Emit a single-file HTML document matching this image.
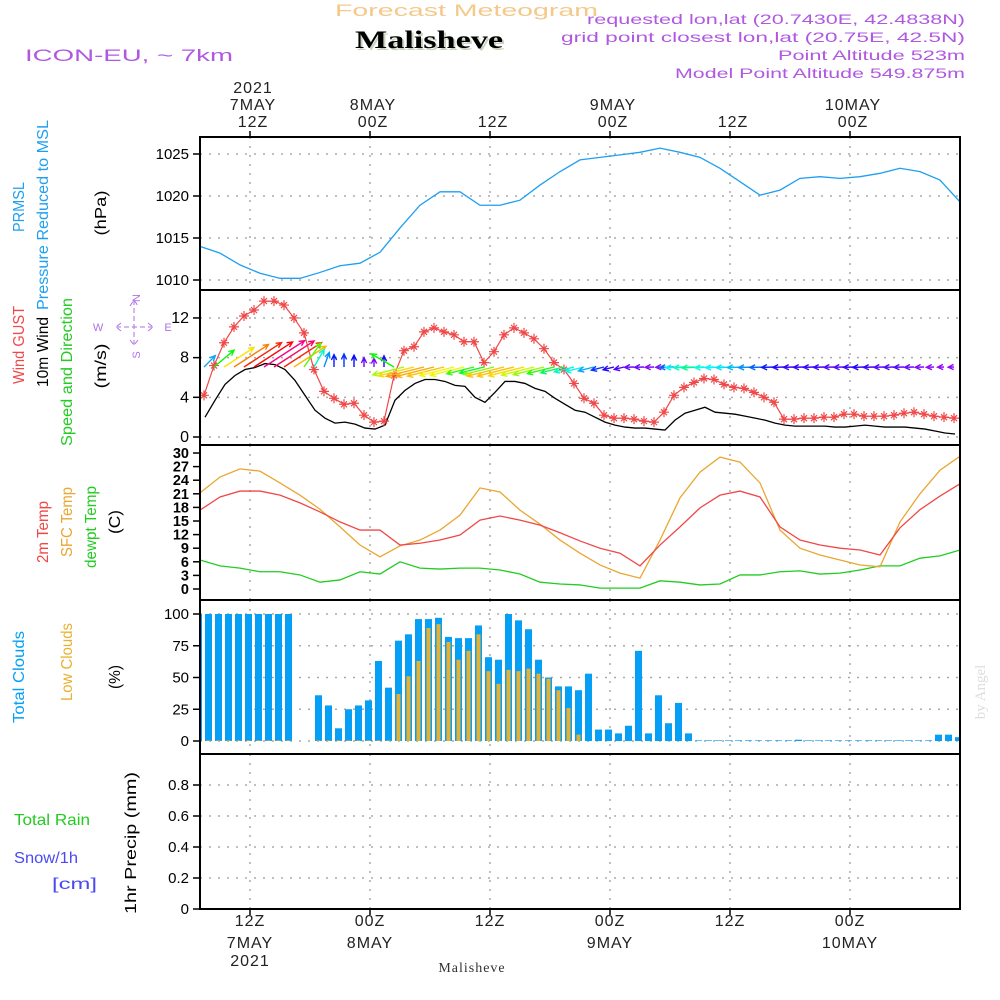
<!DOCTYPE html>
<html><head><meta charset="utf-8"><title>Forecast Meteogram Malisheve</title>
<style>
html,body{margin:0;padding:0;background:#fff;}
svg{display:block;font-family:"Liberation Sans",sans-serif;}
</style></head>
<body>
<svg id="chart" width="1000" height="1000" viewBox="0 0 1000 1000" xmlns="http://www.w3.org/2000/svg">
<rect x="0" y="0" width="1000" height="1000" fill="#fff"/>
<text x="335" y="16" textLength="263" lengthAdjust="spacingAndGlyphs" font-size="17" fill="#f4c98a">Forecast Meteogram</text>
<text x="357" y="50" textLength="148" lengthAdjust="spacingAndGlyphs" font-size="25" font-weight="bold" font-family="Liberation Serif, serif" fill="#c8d4c0">Malisheve</text>
<text x="355" y="48" textLength="148" lengthAdjust="spacingAndGlyphs" font-size="25" font-weight="bold" font-family="Liberation Serif, serif" fill="#000">Malisheve</text>
<text x="965" y="24" text-anchor="end" textLength="378" lengthAdjust="spacingAndGlyphs" font-size="14" fill="#b058e0">requested lon,lat (20.7430E, 42.4838N)</text>
<text x="965" y="42" text-anchor="end" textLength="404" lengthAdjust="spacingAndGlyphs" font-size="14" fill="#b058e0">grid point closest lon,lat (20.75E, 42.5N)</text>
<text x="965" y="60" text-anchor="end" textLength="187" lengthAdjust="spacingAndGlyphs" font-size="14" fill="#b058e0">Point Altitude 523m</text>
<text x="965" y="78" text-anchor="end" textLength="290" lengthAdjust="spacingAndGlyphs" font-size="14" fill="#b058e0">Model Point Altitude 549.875m</text>
<text x="25" y="61" textLength="208" lengthAdjust="spacingAndGlyphs" font-size="17" fill="#b058e0">ICON-EU, ~ 7km</text>
<text transform="translate(985,692) rotate(-90)" text-anchor="middle" font-size="15" font-family="Liberation Serif, serif" fill="#ddd">by Angel</text>
<g id="g"></g>
</svg>
<script>
// ---- data ----
var pressureHours = [0,2,4,6,8,10,12,14,16,18,20,22,24,26,28,30,32,34,36,38,40,42,44,46,48,50,52,54,56,58,60,62,64,66,68,70,72,74,76];
var pressure = [1014.0,1013.2,1011.8,1010.8,1010.2,1010.2,1010.9,1011.7,1012.0,1013.3,1016.2,1018.9,1020.5,1020.5,1018.9,1018.9,1019.5,1021.3,1022.9,1024.3,1024.6,1024.9,1025.2,1025.7,1025.2,1024.6,1023.3,1021.7,1020.1,1020.7,1022.1,1022.3,1022.1,1022.3,1022.7,1023.3,1022.9,1021.9,1019.3];
var windGust = [4.2,7.2,9.5,11.1,12.2,12.8,13.7,13.7,13.3,12.0,10.5,6.8,4.6,3.9,3.3,3.4,2.2,1.5,1.6,6.2,8.7,9.1,10.6,11.0,10.6,10.3,9.6,9.6,7.5,8.6,10.3,11.0,10.5,9.9,8.9,7.5,6.8,5.4,3.9,3.4,2.2,1.9,1.9,1.8,1.6,1.5,2.5,4.2,5.0,5.5,5.9,5.8,5.3,5.0,4.9,4.5,4.0,3.5,1.8,1.8,1.9,1.9,2.0,2.0,2.3,2.3,2.1,2.1,2.1,2.2,2.4,2.5,2.3,2.1,2.0,1.9];
var windSpeed = [2.0,3.7,5.3,6.2,6.8,7.0,7.4,7.3,6.8,5.7,4.2,2.7,1.9,1.4,1.5,1.3,0.9,0.8,1.2,3.7,4.7,5.4,5.8,5.8,5.6,5.2,5.1,4.0,3.5,4.5,5.6,5.6,5.4,4.9,4.6,3.9,3.3,2.7,2.5,2.0,1.5,1.2,1.0,0.9,0.9,0.8,0.7,1.7,2.4,2.7,3.0,2.5,2.4,2.3,2.1,1.9,1.7,1.4,1.2,1.1,1.1,1.1,1.1,1.0,1.0,1.1,1.2,1.1,1.0,1.0,1.0,0.9,0.8,0.6,0.4,0.3];
var windDir = [225,230,237,237,237,237,237,237,237,237,215,210,200,180,180,180,180,180,180,120,76,76,76,76,76,76,76,76,76,76,76,76,76,76,76,76,76,76,76,76,76,76,76,88,88,88,88,88,88,88,88,88,88,88,88,88,88,88,88,88,88,88,88,88,88,88,88,88,88,88,88,88,88,88,88,88];
var tempHours = pressureHours;
var temp2m = [17.4,20.3,21.6,21.6,20.7,19.0,17.0,14.8,13.0,13.0,9.7,10.1,10.8,11.9,15.2,16.1,15.2,14.1,12.4,10.6,9.0,7.9,5.1,9.7,13.7,17.9,20.7,21.6,20.3,13.7,10.8,9.7,9.0,8.6,7.5,13.5,17.5,20.5,23.2];
var tempSfc = [21.2,24.7,26.5,26.0,23.4,20.7,17.6,13.7,9.7,7.1,9.5,10.8,13.0,16.3,22.3,21.4,17.4,14.3,10.8,7.9,5.3,3.5,2.4,10.8,20.1,25.8,29.1,28.0,23.4,13.0,9.0,7.5,6.4,5.3,4.9,14.8,21.0,26.2,29.3];
var dewpoint = [6.4,5.1,4.6,3.8,3.8,3.1,1.5,2.0,3.8,3.3,6.0,4.6,4.4,4.6,4.6,4.2,3.3,1.5,1.1,0.9,0.2,0.2,0.2,1.8,1.5,0.9,1.1,3.1,3.1,3.8,4.0,3.3,3.5,4.2,5.1,5.1,6.8,7.3,8.6];
var totalClouds = [100,100,100,100,100,100,100,100,100,100,0,0,36,28,10,25,28,32,63,42,79,84,96,96,97,82,81,81,91,66,64,100,95,88,64,50,43,43,40,53,9,9,6,12,71,6,36,14,30,6,0.5,0.5,0.5,0.5,0.5,0.5,0.5,0.5,0.5,0.5,1,0.5,0.5,0.5,0.5,0.5,0.5,0.5,0.5,0.5,0.5,0.5,0.5,0.5,5,5,3];
var lowClouds = [0.5,0.5,0.5,0.5,0.5,0.5,0.5,0.5,0.5,0.5,0,0,0.5,0.5,0.5,0.5,0.5,0.5,0.5,0.5,37,51,63,89,92,78,64,71,84,55,45,56,55,57,53,49,40,26,5,0,0,0,0,0,0,0,0,0,0,0,0,0,0,0,0,0,0,0,0,0,0,0,0,0,0,0,0,0,0,0,0,0,0,0,0,0,0];
var precip = [];
var pressureTicks = [1010,1015,1020,1025];
var windTicks = [0,4,8,12];
var tempTicks = [0,3,6,9,12,15,18,21,24,27,30];
var cloudTicks = [0,25,50,75,100];
var precipTicks = [0,0.2,0.4,0.6,0.8];
var timeTickHours = [5,17,29,41,53,65];
var topTimeLabels = [["2021","7MAY","12Z"],["","8MAY","00Z"],["","","12Z"],["","9MAY","00Z"],["","","12Z"],["","10MAY","00Z"]];
var bottomTimeLabels = [["12Z","7MAY","2021"],["00Z","8MAY",""],["12Z","",""],["00Z","9MAY",""],["12Z","",""],["00Z","10MAY",""]];

// ---- scales ----
var X0 = 200, X1 = 960;
function xS(h){ return X0 + 10*h; }
function yP(v){ return 280 - (v-1010)*8.4; }
function yW(v){ return 437 - v*9.92; }
function yT(v){ return 589 - v*4.533; }
function yC(v){ return 741 - v*1.27; }
function yR(v){ return 909 - v*155; }
var panels = [[137,290],[290,445],[445,600],[600,754],[754,909]];

var NS = "http://www.w3.org/2000/svg";
var G = document.getElementById('g');
function mk(tag, attrs, parent){
  var el = document.createElementNS(NS, tag);
  for (var k in attrs) el.setAttribute(k, attrs[k]);
  (parent||G).appendChild(el);
  return el;
}
function txt(s, attrs){
  var el = mk('text', attrs);
  el.textContent = s;
  return el;
}
var e;

// ---- gridlines ----
for (var p=0;p<panels.length;p++){
  for (var j=0;j<timeTickHours.length;j++){
    e = mk('line',{x1:xS(timeTickHours[j]),x2:xS(timeTickHours[j]),y1:panels[p][0],y2:panels[p][1],stroke:'#aaa','stroke-width':1.5,'stroke-dasharray':'2,7'});
    
    
  }
}
function hgrid(ticks, yf, skipZero){
  for (var i=0;i<ticks.length;i++){
    if (skipZero && ticks[i]===0) continue;
    e = mk('line',{x1:X0,x2:X1,y1:yf(ticks[i]),y2:yf(ticks[i]),stroke:'#aaa','stroke-width':1.5,'stroke-dasharray':'2,7'});
    
    
  }
}
hgrid(pressureTicks, yP);
hgrid(windTicks, yW);
hgrid(cloudTicks, yC);
hgrid(precipTicks, yR, true);
e = mk('line',{x1:X0,x2:X1,y1:yR(0),y2:yR(0),stroke:'#000','stroke-width':1.5,'stroke-dasharray':'6,4'});



// ---- tick labels ----
function yLabels(ticks, yf, name, size, bold, fmt){
  for (var i=0;i<ticks.length;i++){
    var y = yf(ticks[i]);
    e = txt(fmt?fmt(ticks[i]):String(ticks[i]),{x:189,y:y+5,'text-anchor':'end','font-size':size,'font-weight':bold?'bold':'normal',fill:'#000'});
    
    
    e = mk('line',{x1:193,x2:200,y1:y,y2:y,stroke:'#000','stroke-width':1.5});
    
    
  }
}
yLabels(pressureTicks, yP, 'pressure-tick-label', 15);
yLabels(windTicks, yW, 'wind-tick-label', 16);
yLabels(tempTicks, yT, 'temp-tick-label', 14.5, true);
yLabels(cloudTicks, yC, 'cloud-tick-label', 15);
yLabels(precipTicks, yR, 'precip-tick-label', 15, false, function(v){ return v===0?'0':v.toFixed(1); });

// ---- time axes ----
for (var j=0;j<timeTickHours.length;j++){
  var tx = xS(timeTickHours[j]) + 3;
  var tl = topTimeLabels[j], bl = bottomTimeLabels[j];
  var ys = [93,110,127];
  for (var k=0;k<3;k++){
    if (!tl[k]) continue;
    e = txt(tl[k],{x:tx,y:ys[k],'text-anchor':'middle','font-size':16,fill:'#222','letter-spacing':'1'});
    
    
  }
  var ysb = [926,948,966];
  for (var k=0;k<3;k++){
    if (!bl[k]) continue;
    e = txt(bl[k],{x:tx-3,y:ysb[k],'text-anchor':'middle','font-size':16,fill:'#222','letter-spacing':'1'});
    
    
  }
  e = mk('line',{x1:xS(timeTickHours[j]),x2:xS(timeTickHours[j]),y1:131,y2:137,stroke:'#000','stroke-width':1.5});
  
  
  e = mk('line',{x1:xS(timeTickHours[j]),x2:xS(timeTickHours[j]),y1:909,y2:915,stroke:'#000','stroke-width':1.5});
  
  
}
e = txt('Malisheve',{x:472,y:972,'text-anchor':'middle','font-size':14,'font-family':'Liberation Serif, serif',fill:'#333','letter-spacing':'1'});



// ---- pressure line ----
var d = '';
for (var i=0;i<pressure.length;i++) d += (i?'L':'M') + xS(pressureHours[i]) + ',' + yP(pressure[i]);
e = mk('path',{d:d,fill:'none',stroke:'#1e9ff0','stroke-width':1.3});



// ---- wind ----
d = '';
for (var i=0;i<windSpeed.length;i++) d += (i?'L':'M') + xS(i+0.5) + ',' + yW(windSpeed[i]);
e = mk('path',{d:d,fill:'none',stroke:'#000','stroke-width':1.3});


d = '';
for (var i=0;i<windGust.length;i++) d += (i?'L':'M') + (xS(i)+4) + ',' + yW(windGust[i]);
e = mk('path',{d:d,fill:'none',stroke:'#f04848','stroke-width':1.2});


for (var i=0;i<windGust.length;i++){
  var gx = xS(i)+4, gy = yW(windGust[i]);
  e = mk('path',{d:'M'+(gx-5)+','+gy+'H'+(gx+5)+'M'+gx+','+(gy-5)+'V'+(gy+5)+'M'+(gx-3)+','+(gy-3)+'L'+(gx+3)+','+(gy+3)+'M'+(gx-3)+','+(gy+3)+'L'+(gx+3)+','+(gy-3),stroke:'#f04848','stroke-width':1.2,fill:'none'});
  
  
}
var hueS = [0.5,0.8,2,3.7,5.3,6.2,7,7.5], hueH = [275,270,200,120,55,30,0,-40];
function hueFor(s){
  if (s<=hueS[0]) return hueH[0];
  for (var k=1;k<hueS.length;k++){
    if (s<=hueS[k]){ var f=(s-hueS[k-1])/(hueS[k]-hueS[k-1]); return hueH[k-1]+f*(hueH[k]-hueH[k-1]); }
  }
  return hueH[hueH.length-1];
}
for (var i=0;i<windSpeed.length;i++){
  var sp = windSpeed[i];
  var L = 4 + sp*6;
  var b = (windDir[i]+180)*Math.PI/180;
  var x0 = xS(i)+4, y0 = 367;
  var x1 = x0 + L*Math.sin(b), y1 = y0 - L*Math.cos(b);
  var a = Math.atan2(y1-y0, x1-x0);
  var hl = 6;
  var h1x = x1 - hl*Math.cos(a-0.45), h1y = y1 - hl*Math.sin(a-0.45);
  var h2x = x1 - hl*Math.cos(a+0.45), h2y = y1 - hl*Math.sin(a+0.45);
  var hue = (hueFor(sp)+360)%360;
  e = mk('path',{d:'M'+x0+','+y0+'L'+x1+','+y1+'M'+h1x+','+h1y+'L'+x1+','+y1+'L'+h2x+','+h2y,stroke:'hsl('+hue+',95%,50%)','stroke-width':1.4,fill:'none'});
  
  
}

// ---- temperatures ----
function tline(arr, color, name){
  var d='';
  for (var i=0;i<arr.length;i++) d += (i?'L':'M') + xS(tempHours[i]) + ',' + yT(arr[i]);
  e = mk('path',{d:d,fill:'none',stroke:color,'stroke-width':1.3});
  
  
}
tline(dewpoint,'#22cc22','dewpoint-line');
tline(tempSfc,'#eaa630','sfc-temp-line');
tline(temp2m,'#f04848','temp-2m-line');

// ---- clouds ----
for (var i=0;i<totalClouds.length;i++){
  var cx = xS(i) - 1.5;
  if (totalClouds[i]>0){
    var ytop = yC(totalClouds[i]);
    var bx = Math.max(X0, cx-3.5);
    var bw = Math.min(cx+3.5, X1) - bx;
    e = mk('rect',{x:bx,y:ytop,width:bw,height:yC(0)-ytop,fill:'#05a0f5'});
    
    
  }
}
for (var i=0;i<lowClouds.length;i++){
  var cx = xS(i) - 1.5;
  if (lowClouds[i]>0){
    var ytop = yC(lowClouds[i]);
    e = mk('rect',{x:Math.max(X0,cx-2),y:ytop,width:Math.min(cx+2,X1)-Math.max(X0,cx-2),height:yC(0)-ytop,fill:'#e8b030'});
    
    
  }
}
for (var i=0;i<precip.length;i++){
  var ytop = yR(precip[i]);
  e = mk('rect',{x:xS(i)-3.5,y:ytop,width:7,height:yR(0)-ytop,fill:'#22cc22'});
  
  
}

// ---- frames ----
for (var p=0;p<panels.length;p++){
  e = mk('rect',{x:X0,y:panels[p][0],width:X1-X0,height:panels[p][1]-panels[p][0],fill:'none',stroke:'#000','stroke-width':2});
  
  
}

// ---- left labels ----
function vlabel(s, x, y, color, name, len){
  var a = {transform:'translate('+x+','+y+') rotate(-90)','text-anchor':'middle','font-size':16,fill:color};
  if (len){ a.textLength = len; a.lengthAdjust='spacingAndGlyphs'; }
  e = txt(s, a);
  
  
}
vlabel('PRMSL',24,207,'#1e9ff0','pressure-title',50);
vlabel('Pressure Reduced to MSL',48,215,'#1e9ff0','pressure-subtitle',190);
vlabel('(hPa)',106,213,'#000','pressure-unit',45);
vlabel('Wind GUST',24,345,'#f04848','gust-title',78);
vlabel('10m Wind',48,352,'#000','wind-title',70);
vlabel('Speed and Direction',72,372,'#22cc22','wind-subtitle',148);
vlabel('(m/s)',106,366,'#000','wind-unit',45);
vlabel('2m Temp',48,532,'#f04848','temp-2m-title',62);
vlabel('SFC Temp',72,522,'#eaa630','sfc-temp-title',70);
vlabel('dewpt Temp',96,527,'#22cc22','dewpoint-title',82);
vlabel('(C)',120,522,'#000','temp-unit',24);
vlabel('Total Clouds',24,677,'#05a0f5','total-clouds-title',92);
vlabel('Low Clouds',72,662,'#e8b030','low-clouds-title',78);
vlabel('(%)',120,677,'#000','cloud-unit',24);
vlabel('1hr Precip (mm)',136,843,'#000','precip-title',142);
e = txt('Total  Rain',{x:14,y:825,'font-size':16,fill:'#22cc22',textLength:76,lengthAdjust:'spacingAndGlyphs'});


e = txt('Snow/1h',{x:14,y:863,'font-size':16,fill:'#4a4af0',textLength:64,lengthAdjust:'spacingAndGlyphs'});


e = txt('[cm]',{x:52,y:889,'font-size':16,fill:'#4a4af0',textLength:45,lengthAdjust:'spacingAndGlyphs'});



// ---- compass ----
var cc = '#b070e8';
e = mk('path',{d:'M134,300V345M116,327H153M130,306L134,300L138,306M130,340L134,345L138,340M121,323L116,327L121,331M148,323L153,327L148,331',stroke:cc,'stroke-width':1,fill:'none','stroke-dasharray':'5,3'});


var comp = [['N',140,298,90],['S',140,355,90],['W',98,331,0],['E',168,331,0]];
for (var i=0;i<comp.length;i++){
  var c = comp[i];
  e = txt(c[0],{transform:'translate('+c[1]+','+c[2]+') rotate('+(c[3]?-90:0)+')','text-anchor':'middle','font-size':11,fill:cc});
  
  
}
</script>
</body></html>
